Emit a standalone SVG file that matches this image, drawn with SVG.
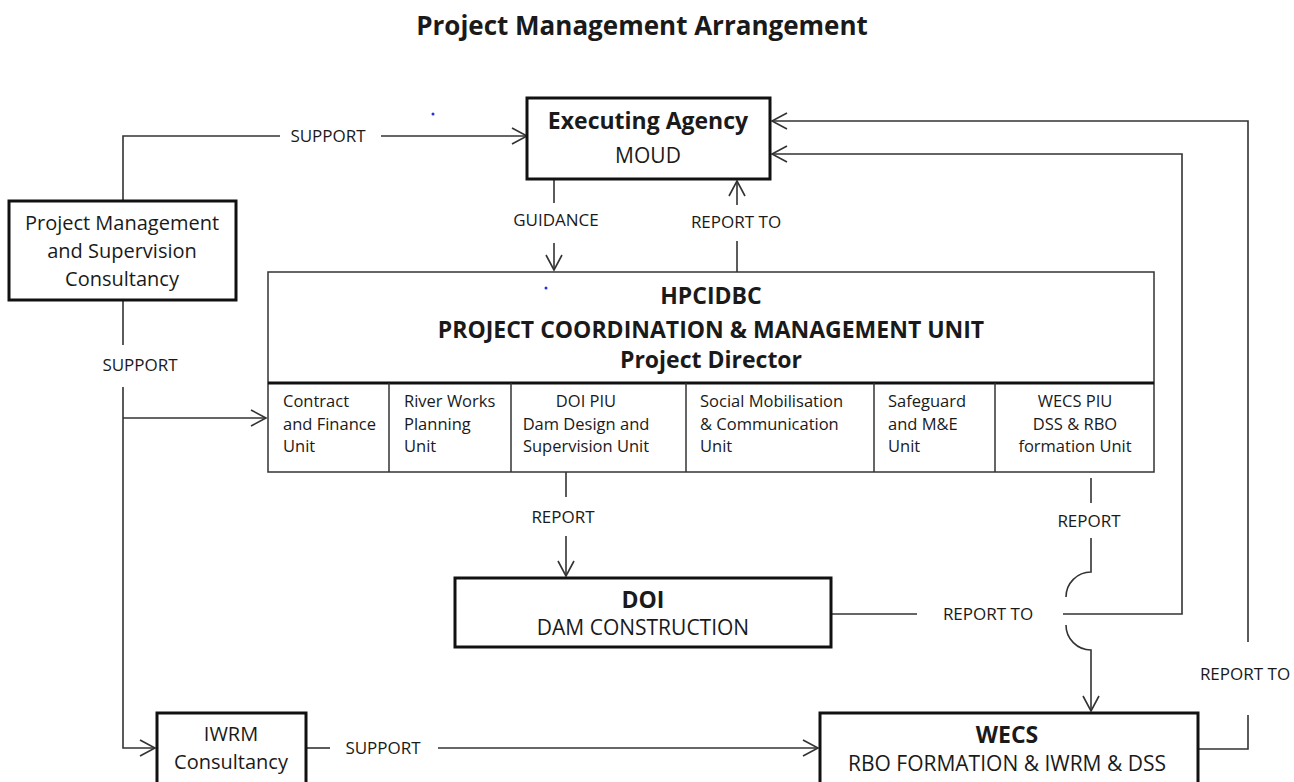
<svg xmlns="http://www.w3.org/2000/svg" width="1294" height="782" viewBox="0 0 1294 782">
<defs>
<marker id="arr" markerUnits="userSpaceOnUse" markerWidth="18" markerHeight="20" refX="16" refY="9" orient="auto">
<path d="M1,1 L16,9 L1,17" fill="none" stroke="#333" stroke-width="1.6"/>
</marker>
<style>
text{font-family:"Open Sans","DejaVu Sans",sans-serif;fill:#1a1a1a}
.t{font-size:26px;font-weight:bold}
.h{font-size:23px;font-weight:bold}
.b{font-size:21px}
.p{font-size:20px}
.u{font-size:16.5px}
.l{font-size:17px}
.c{text-anchor:middle}
.box{fill:#fff;stroke:#111;stroke-width:3}
.thin{fill:#fff;stroke:#333;stroke-width:1.5}
.ln{fill:none;stroke:#333;stroke-width:1.6}
</style>
</defs>
<rect width="1294" height="782" fill="#fff"/>
<text class="t c" x="642" y="35">Project Management Arrangement</text>

<g id="connectors">
<path class="ln" d="M123,201 V136 H280"/>
<path class="ln" d="M381,136 H527" marker-end="url(#arr)"/>
<path class="ln" d="M1198,749 H1248 V715"/>
<path class="ln" d="M1248,642 V121 H772" marker-end="url(#arr)"/>
<path class="ln" d="M832,614 H917"/>
<path class="ln" d="M1063,614 H1182 V154 H772" marker-end="url(#arr)"/>
<path class="ln" d="M554,179 V203"/>
<path class="ln" d="M554,243 V270" marker-end="url(#arr)"/>
<path class="ln" d="M737,272 V241"/>
<path class="ln" d="M737,205 V181" marker-end="url(#arr)"/>
<path class="ln" d="M123,300 V345"/>
<path class="ln" d="M123,387 V748 H155" marker-end="url(#arr)"/>
<path class="ln" d="M123,418 H266" marker-end="url(#arr)"/>
<path class="ln" d="M306,748 H330"/>
<path class="ln" d="M438,748 H818" marker-end="url(#arr)"/>
<path class="ln" d="M566,472 V497"/>
<path class="ln" d="M566,536 V576" marker-end="url(#arr)"/>
<path class="ln" d="M1091,478 V503"/>
<path class="ln" d="M1091,538 V572 A25,25 0 0 0 1066,597"/>
<path class="ln" d="M1066,625 A25,25 0 0 0 1091,650 V711" marker-end="url(#arr)"/>
<text class="l c" x="328" y="142">SUPPORT</text>
<text class="l c" x="556" y="226">GUIDANCE</text>
<text class="l c" x="736" y="228">REPORT TO</text>
<text class="l c" x="140" y="371">SUPPORT</text>
<text class="l c" x="563" y="523">REPORT</text>
<text class="l c" x="1089" y="527">REPORT</text>
<text class="l c" x="988" y="620">REPORT TO</text>
<text class="l c" x="1245" y="680">REPORT TO</text>
<text class="l c" x="383" y="754">SUPPORT</text>
</g>

<g id="executing-agency">
<rect class="box" x="527" y="98" width="243" height="81"/>
<text class="h c" x="648" y="129">Executing Agency</text>
<text class="b c" x="648" y="163">MOUD</text>
</g>

<g id="pmsc">
<rect class="box" x="9" y="201" width="227" height="99"/>
<text class="p c" x="122" y="230">Project Management</text>
<text class="p c" x="122" y="258">and Supervision</text>
<text class="p c" x="122" y="286">Consultancy</text>
</g>

<g id="hpcidbc">
<rect class="thin" x="268" y="272" width="886" height="200"/>
<line x1="268" y1="383" x2="1154" y2="383" stroke="#111" stroke-width="3"/>
<g stroke="#333" stroke-width="1.5">
<line x1="389" y1="383" x2="389" y2="472"/>
<line x1="511" y1="383" x2="511" y2="472"/>
<line x1="686" y1="383" x2="686" y2="472"/>
<line x1="874" y1="383" x2="874" y2="472"/>
<line x1="995" y1="383" x2="995" y2="472"/>
</g>
<text class="h c" x="711" y="304">HPCIDBC</text>
<text class="h c" x="711" y="338">PROJECT COORDINATION &amp; MANAGEMENT UNIT</text>
<text class="h c" x="711" y="368">Project Director</text>
<text class="u" x="283" y="407">Contract</text>
<text class="u" x="283" y="430">and Finance</text>
<text class="u" x="283" y="452">Unit</text>
<text class="u" x="404" y="407">River Works</text>
<text class="u" x="404" y="430">Planning</text>
<text class="u" x="404" y="452">Unit</text>
<text class="u c" x="586" y="407">DOI PIU</text>
<text class="u c" x="586" y="430">Dam Design and</text>
<text class="u c" x="586" y="452">Supervision Unit</text>
<text class="u" x="700" y="407">Social Mobilisation</text>
<text class="u" x="700" y="430">&amp; Communication</text>
<text class="u" x="700" y="452">Unit</text>
<text class="u" x="888" y="407">Safeguard</text>
<text class="u" x="888" y="430">and M&amp;E</text>
<text class="u" x="888" y="452">Unit</text>
<text class="u c" x="1075" y="407">WECS PIU</text>
<text class="u c" x="1075" y="430">DSS &amp; RBO</text>
<text class="u c" x="1075" y="452">formation Unit</text>
</g>

<g id="doi">
<rect class="box" x="455" y="578" width="376" height="69"/>
<text class="h c" x="643" y="608">DOI</text>
<text class="b c" x="643" y="635">DAM CONSTRUCTION</text>
</g>

<g id="iwrm">
<rect class="box" x="157" y="713" width="149" height="80"/>
<text class="p c" x="231" y="741">IWRM</text>
<text class="p c" x="231" y="769">Consultancy</text>
</g>

<g id="wecs">
<rect class="box" x="820" y="713" width="378" height="80"/>
<text class="h c" x="1007" y="743">WECS</text>
<text class="b c" x="1007" y="771">RBO FORMATION &amp; IWRM  &amp; DSS</text>
</g>

<circle cx="433" cy="114" r="1.5" fill="#2233dd"/>
<circle cx="546" cy="288" r="1.5" fill="#2233dd"/>
</svg>
